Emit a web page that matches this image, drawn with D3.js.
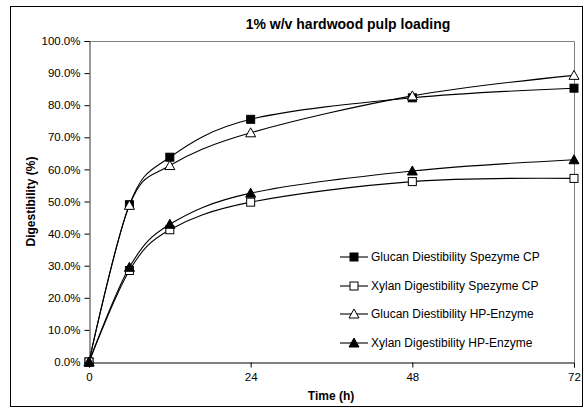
<!DOCTYPE html>
<html>
<head>
<meta charset="utf-8">
<script src="https://cdn.jsdelivr.net/npm/d3@7"></script>
<style>
  html, body { margin: 0; padding: 0; background: #fff; }
  svg { display: block; font-family: "Liberation Sans", Arial, sans-serif; }
</style>
</head>
<body>
<svg id="chart" width="584" height="408"></svg>
<script>
// Sampling times (h)
const times = [0, 6, 12, 24, 48, 72];
const xTicks = [0, 24, 48, 72];
const yTicks = [0, 0.1, 0.2, 0.3, 0.4, 0.5, 0.6, 0.7, 0.8, 0.9, 1.0];

// Digestibility fractions per series
const glucanSpezyme = [0, 0.490, 0.638, 0.756, 0.823, 0.853];
const xylanSpezyme  = [0, 0.285, 0.412, 0.498, 0.562, 0.572];
const glucanHP      = [0, 0.488, 0.612, 0.714, 0.829, 0.893];
const xylanHP       = [0, 0.295, 0.429, 0.526, 0.595, 0.630];

const seriesNames = [
  "Glucan Diestibility Spezyme CP",
  "Xylan Digestibility Spezyme CP",
  "Glucan Diestibility HP-Enzyme",
  "Xylan Digestibility HP-Enzyme"
];
const seriesValues = [glucanSpezyme, xylanSpezyme, glucanHP, xylanHP];
const markerShapes = ["square", "square", "triangle", "triangle"];
const markerFilled = [true, false, false, true];

const svg = d3.select("#chart");

// outer chart frame
svg.append("rect")
  .attr("x", 10.5).attr("y", 6.5)
  .attr("width", 572).attr("height", 400)
  .attr("fill", "none").attr("stroke", "#000").attr("stroke-width", 1);

const plotLeft = 89, plotRight = 574, plotTop = 41, plotBottom = 362;
const x = d3.scaleLinear().domain([0, 72]).range([plotLeft, plotRight]);
const y = d3.scaleLinear().domain([0, 1]).range([plotBottom, plotTop]);

// plot area frame (top/right in grey)
svg.append("path")
  .attr("d", `M${plotLeft},${plotTop + 0.5}H${plotRight + 0.5}V${plotBottom}`)
  .attr("fill", "none").attr("stroke", "#808080").attr("stroke-width", 1);

// title
svg.append("text")
  .attr("x", 348).attr("y", 29)
  .attr("text-anchor", "middle")
  .attr("font-size", 14).attr("font-weight", "bold")
  .text("1% w/v hardwood pulp loading");

// y axis
const yAxis = d3.axisLeft(y).tickValues(yTicks)
  .tickFormat(d3.format(".1%")).tickSizeOuter(0).tickSize(5).tickPadding(4);
const gy = svg.append("g").attr("transform", `translate(${plotLeft + 0.5},0)`).call(yAxis);
gy.select(".domain").attr("stroke", "#333");
gy.selectAll("text").attr("font-size", 11.5).attr("fill", "#000")
  .attr("font-family", "Liberation Sans, Arial, sans-serif");

// x axis
const xAxis = d3.axisBottom(x).tickValues(xTicks)
  .tickFormat(d3.format("d")).tickSizeOuter(0).tickSize(5).tickPadding(5);
const gx = svg.append("g").attr("transform", `translate(0,${plotBottom + 0.5})`).call(xAxis);
gx.select(".domain").attr("stroke", "#000");
gx.selectAll("text").attr("font-size", 11.5).attr("fill", "#000")
  .attr("font-family", "Liberation Sans, Arial, sans-serif");

// axis titles
svg.append("text")
  .attr("x", 331).attr("y", 400)
  .attr("text-anchor", "middle")
  .attr("font-size", 12).attr("font-weight", "bold")
  .text("Time (h)");
svg.append("text")
  .attr("transform", `translate(35,${(plotTop + plotBottom) / 2}) rotate(-90)`)
  .attr("text-anchor", "middle")
  .attr("font-size", 12).attr("font-weight", "bold")
  .text("Digestibility (%)");

// smoothed series lines
const line = d3.line()
  .x((d, i) => x(times[i]))
  .y(d => y(d))
  .curve(d3.curveCatmullRom.alpha(0));

const plot = svg.append("g");
seriesValues.forEach(vals => {
  plot.append("path")
    .attr("d", line(vals))
    .attr("fill", "none").attr("stroke", "#000").attr("stroke-width", 1.1);
});

function drawMarker(g, shape, filled, cx, cy) {
  const fill = filled ? "#000" : "#fff";
  if (shape === "square") {
    g.append("rect")
      .attr("x", cx - 4).attr("y", cy - 4)
      .attr("width", 8).attr("height", 8)
      .attr("fill", fill).attr("stroke", "#000").attr("stroke-width", 1);
  } else {
    const s = 5;
    g.append("path")
      .attr("d", `M${cx},${cy - s}L${cx + s},${cy + s * 0.8}L${cx - s},${cy + s * 0.8}Z`)
      .attr("fill", fill).attr("stroke", "#000").attr("stroke-width", 1);
  }
}

seriesValues.forEach((vals, si) => {
  vals.forEach((v, i) => {
    drawMarker(plot, markerShapes[si], markerFilled[si], x(times[i]), y(v));
  });
});

// legend
const legendY = [257, 286, 314, 343];
seriesNames.forEach((name, i) => {
  const g = svg.append("g");
  g.append("line")
    .attr("x1", 340).attr("x2", 368)
    .attr("y1", legendY[i]).attr("y2", legendY[i])
    .attr("stroke", "#000").attr("stroke-width", 1.1);
  drawMarker(g, markerShapes[i], markerFilled[i], 354, legendY[i]);
  g.append("text")
    .attr("x", 371).attr("y", legendY[i] + 4)
    .attr("font-size", 12)
    .text(name);
});
</script>
</body>
</html>
